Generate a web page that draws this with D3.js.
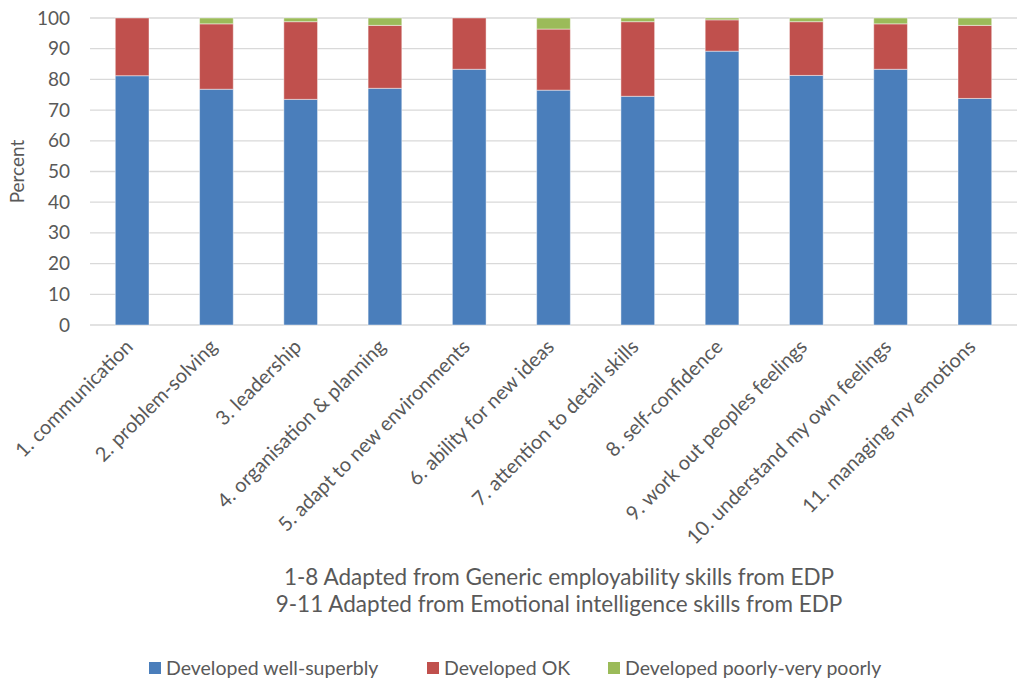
<!DOCTYPE html>
<html>
<head>
<meta charset="utf-8">
<script src="https://cdn.jsdelivr.net/npm/d3@7"></script>
<style>
  body { margin: 0; background: #fff; }
  svg { font-family: Lato, "Open Sans", sans-serif; }
</style>
</head>
<body>
<svg id="chart" width="1017" height="681"></svg>
<script>
// Skills data (percent)
var skills = ["1. communication", "2. problem-solving", "3. leadership", "4. organisation & planning",
    "5. adapt to new environments", "6. ability for new ideas", "7. attention to detail skills",
    "8. self-confidence", "9. work out peoples feelings", "10. understand my own feelings",
    "11. managing my emotions"];
var wellSuperbly = [81.2, 76.8, 73.5, 77.1, 83.3, 76.5, 74.5, 89.2, 81.3, 83.3, 73.8];
var developedOK  = [18.8, 21.3, 25.3, 20.5, 16.7, 19.9, 24.3, 10.2, 17.5, 14.8, 23.8];
var poorly       = [0.0, 1.9, 1.2, 2.4, 0.0, 3.6, 1.2, 0.6, 1.2, 1.9, 2.4];
var seriesNames = ["Developed well-superbly", "Developed OK", "Developed poorly-very poorly"];
var yTicks = [0, 10, 20, 30, 40, 50, 60, 70, 80, 90, 100];
var notes = ["1-8 Adapted from Generic employability skills from EDP",
    "9-11 Adapted from Emotional intelligence skills from EDP"];

var colors = ["#4a7ebb", "#c0504d", "#9bbb59"];
var textColor = "#595959";

var svg = d3.select("#chart"),
    margin = {top: 18, right: 0, bottom: 356, left: 90},
    width = +svg.attr("width") - margin.left - margin.right,
    height = +svg.attr("height") - margin.top - margin.bottom;
var g = svg.append("g").attr("transform", "translate(" + margin.left + "," + margin.top + ")");

var rows = skills.map(function(s, i) {
    return {skill: s, well: wellSuperbly[i], ok: developedOK[i], poor: poorly[i]};
});
var stack = d3.stack().keys(["well", "ok", "poor"]);
var layers = stack(rows);

var x = d3.scaleBand().domain(skills).range([0, width]).paddingInner(0.6).paddingOuter(0.3);
var y = d3.scaleLinear().domain([0, 100]).range([height, 0]);

// gridlines
g.selectAll("line.grid")
    .data(yTicks)
    .enter().append("line")
    .attr("class", "grid")
    .attr("x1", 0).attr("x2", width)
    .attr("y1", function(d) { return y(d); })
    .attr("y2", function(d) { return y(d); })
    .attr("stroke", "#d9d9d9")
    .attr("stroke-width", 1.3);

// y axis labels
var yAxis = d3.axisLeft(y).tickValues(yTicks).tickSize(0).tickPadding(20);
g.append("g").call(yAxis)
    .call(function(a) { a.select(".domain").remove(); })
    .selectAll("text")
    .attr("font-size", "19px")
    .attr("font-family", "Lato, sans-serif")
    .attr("fill", textColor);

// bars
g.selectAll("g.layer")
    .data(layers)
    .enter().append("g")
    .attr("class", "layer")
    .attr("fill", function(d, i) { return colors[i]; })
    .selectAll("rect")
    .data(function(d) { return d; })
    .enter().append("rect")
    .attr("x", function(d) { return x(d.data.skill); })
    .attr("y", function(d) { return y(d[1]); })
    .attr("width", x.bandwidth())
    .attr("height", function(d) { return y(d[0]) - y(d[1]); })
    .attr("stroke", "rgba(255,255,255,0.45)")
    .attr("stroke-width", 1);

// x labels, rotated
g.selectAll("text.xlab")
    .data(skills)
    .enter().append("text")
    .attr("class", "xlab")
    .attr("text-anchor", "end")
    .attr("font-size", "20px")
    .attr("fill", textColor)
    .attr("transform", function(d) {
        return "translate(" + (x(d) + x.bandwidth() / 2 + 2) + "," + (height + 23) + ") rotate(-45)";
    })
    .text(function(d) { return d; });

// y axis title
svg.append("text")
    .attr("transform", "translate(24," + (margin.top + height / 2) + ") rotate(-90)")
    .attr("text-anchor", "middle")
    .attr("font-size", "19px")
    .attr("fill", textColor)
    .text("Percent");

// footnotes
svg.selectAll("text.note")
    .data(notes)
    .enter().append("text")
    .attr("class", "note")
    .attr("x", 559)
    .attr("y", function(d, i) { return 585 + i * 27; })
    .attr("text-anchor", "middle")
    .attr("font-size", "22.5px")
    .attr("fill", textColor)
    .text(function(d) { return d; });

// legend
var legendX = [149, 427, 608];
var legend = svg.append("g").attr("font-size", "19.5px");
legend.selectAll("rect")
    .data(seriesNames)
    .enter().append("rect")
    .attr("x", function(d, i) { return legendX[i]; })
    .attr("y", 662)
    .attr("width", 12).attr("height", 12)
    .attr("fill", function(d, i) { return colors[i]; });
legend.selectAll("text")
    .data(seriesNames)
    .enter().append("text")
    .attr("x", function(d, i) { return legendX[i] + 17; })
    .attr("y", 675)
    .attr("fill", textColor)
    .text(function(d) { return d; });
</script>
</body>
</html>
